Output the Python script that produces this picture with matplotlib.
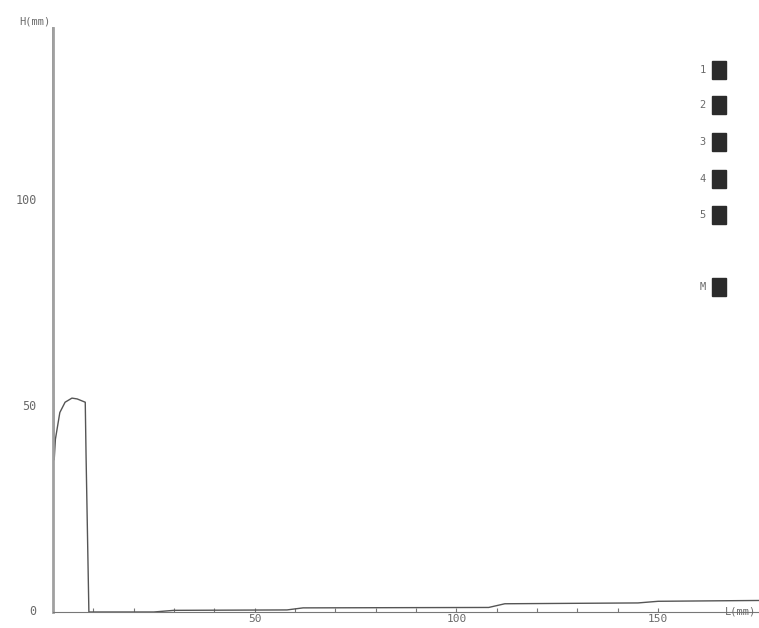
import numpy as np
import matplotlib
matplotlib.use('Agg')
import matplotlib.pyplot as plt
from matplotlib.patches import Rectangle

# profile trace: length L (mm) vs height H (mm)
L = [0.0, 0.1, 0.3, 0.6, 1.7, 3.0, 4.7, 6.0, 8.0, 8.2, 8.9, 9.2,
     25.0, 30.0, 58.0, 62.0, 108.0, 112.0, 145.0, 150.0, 175.0]
H = [142.0, 60.0, 37.0, 42.0, 48.5, 51.0, 52.0, 51.8, 51.0, 38.0, 0.0, 0.0,
     0.0, 0.4, 0.5, 1.0, 1.1, 2.0, 2.2, 2.6, 2.8]

x_ticks = [10, 20, 30, 40, 50, 60, 70, 80, 90, 100, 110, 120, 130, 140, 150]
x_labels = ['50', '100', '150']
y_labels = ['0', '50', '100']
legend_labels = ['1', '2', '3', '4', '5', 'M']

grey = '#6a6a6a'
mono = 'DejaVu Sans Mono'

fig = plt.figure(figsize=(7.59, 6.28), dpi=100)
ax = fig.add_axes([0.0698, 0.0255, 0.9302, 0.93])
ax.set_xlim(0, 175)
ax.set_ylim(0, 142)

ax.plot(L, H, color='#555555', lw=1.0, clip_on=False)

for s in ['top', 'right']:
    ax.spines[s].set_visible(False)
ax.spines['left'].set_color('#a0a0a0')
ax.spines['left'].set_linewidth(2.0)
ax.spines['bottom'].set_color('#777777')
ax.spines['bottom'].set_linewidth(0.8)

ax.set_xticks(x_ticks)
ax.set_xticklabels([])
ax.tick_params(axis='x', direction='in', length=3, width=0.8, color='#777777')
ax.set_yticks([])

for t in x_labels:
    ax.text(float(t), -1.6, t, ha='center', va='center', fontsize=8,
            color=grey, family=mono)
for t in y_labels:
    ax.text(-4.0, float(t), t, ha='right', va='center', fontsize=8.5,
            color=grey, family=mono)
ax.text(-4.5, 143.5, 'H(mm)', ha='center', va='center', fontsize=7.5,
        color=grey, family=mono, clip_on=False)
fig.text(0.975, 0.026, 'L(mm)', ha='center', va='center', fontsize=7.5,
         color=grey, family=mono)

# legend boxes on the right
ys = [70, 105, 142, 179, 215, 287]
for lab, yp in zip(legend_labels, ys):
    yf = 1 - yp / 628
    fig.text(706 / 759, yf, lab, ha='right', va='center', fontsize=7.5,
             color=grey, family=mono)
    fig.patches.append(Rectangle((712 / 759, yf - 9 / 628), 14 / 759, 18 / 628,
                                 transform=fig.transFigure, color='#2b2b2b'))

fig.savefig('out.png', dpi=100)
